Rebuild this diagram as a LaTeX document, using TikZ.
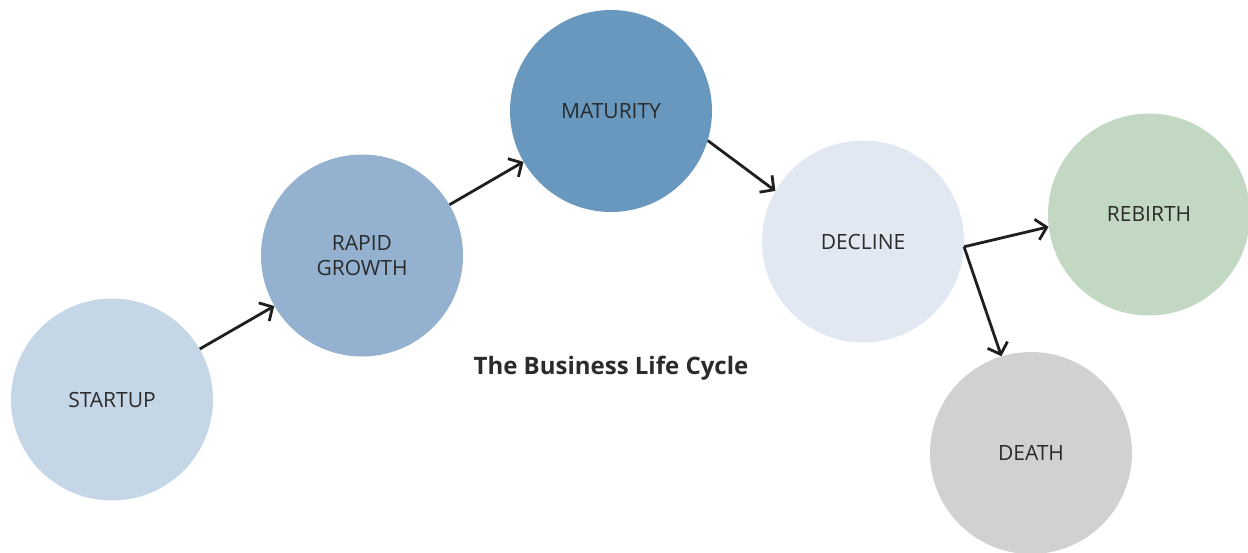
\documentclass[tikz,border=0pt]{standalone}
\usepackage{fontspec}
\setmainfont{Open Sans}
\usetikzlibrary{arrows.meta}
\definecolor{cStart}{HTML}{C5D6E7}
\definecolor{cRapid}{HTML}{94B2CF}
\definecolor{cMat}{HTML}{6898BE}
\definecolor{cDec}{HTML}{E1E8F2}
\definecolor{cReb}{HTML}{C3D8C3}
\definecolor{cDeath}{HTML}{D0D1D3}
\definecolor{txt}{HTML}{2B2B2B}
\tikzset{
  stage/.style={circle, minimum size=202pt, inner sep=0pt, draw=none, text=txt,
    font=\fontsize{21}{25}\selectfont, align=center},
  conn/.style={line width=2.8pt, draw=black!88, -{Straight Barb[length=10pt,width=21pt,line width=2.8pt]}},
}
\begin{document}
\begin{tikzpicture}[x=1pt,y=-1pt]
\useasboundingbox (0,0) rectangle (1248,552);
\fill[white] (0,0) rectangle (1248,552);
\node[stage, fill=cStart] (start) at (112,399.5) {STARTUP};
\node[stage, fill=cRapid] (rapid) at (362,255.5) {RAPID\\GROWTH};
\node[stage, fill=cMat] (mat) at (611,111) {MATURITY};
\node[stage, fill=cDec] (dec) at (863,241.5) {DECLINE};
\node[stage, fill=cReb] (reb) at (1149,214.5) {REBIRTH};
\node[stage, fill=cDeath] (death) at (1031,453) {DEATH};
\node[text=txt, font=\fontsize{24}{28}\selectfont\bfseries] (title) at (611,368.5) {The Business Life Cycle};
\coordinate (fork) at (dec.-3.4);
\draw[conn] (start) -- (rapid);
\draw[conn] (rapid) -- (mat);
\draw[conn] (mat.-17) -- (dec.150);
\draw[conn] (fork) -- (reb.-173);
\draw[conn] (fork) -- (death.107);
\end{tikzpicture}
\end{document}
